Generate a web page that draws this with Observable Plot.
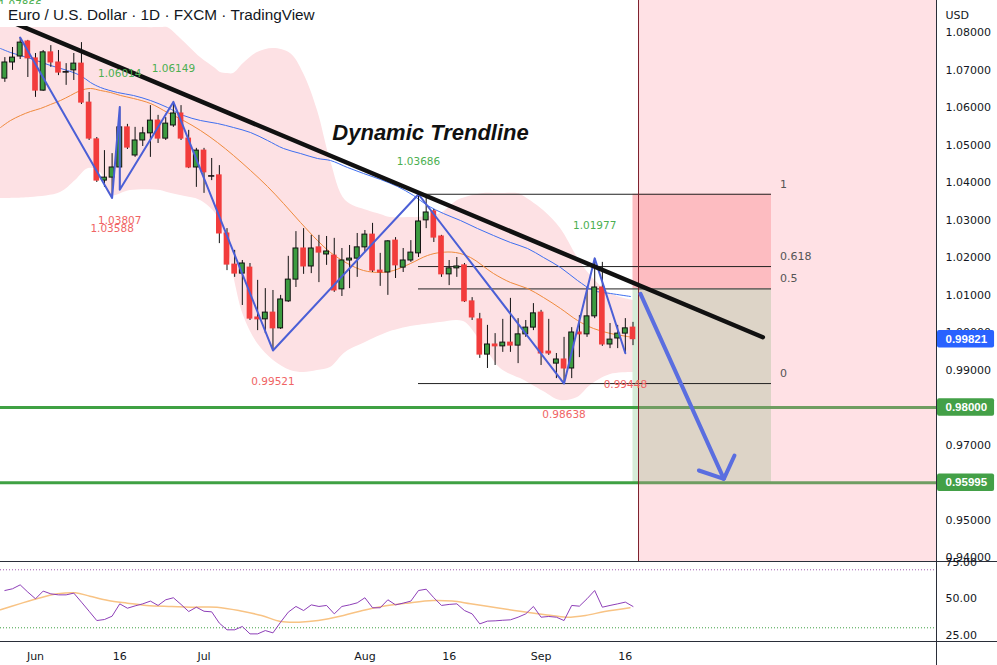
<!DOCTYPE html>
<html><head><meta charset="utf-8">
<script src="https://cdn.jsdelivr.net/npm/d3@7"></script>
<script src="https://cdn.jsdelivr.net/npm/@observablehq/plot@0.6"></script>
<style>
html,body{margin:0;padding:0;background:#fff;}
#wrap{position:relative;width:997px;height:665px;overflow:hidden;}
#main,#rsi{position:absolute;left:0;}
#main{top:0;}
#rsi{top:561px;}
#title{position:absolute;left:0;top:4px;height:22px;padding:0 6px 0 8px;background:#fff;font-family:"Liberation Sans",sans-serif;font-size:15.3px;line-height:21px;color:#131722;white-space:nowrap;}
svg{overflow:visible;}
</style></head><body>
<div id="wrap"><div id="main"></div><div id="rsi"></div><div id="title">Euro / U.S. Dollar · 1D · FXCM · TradingView</div></div>
<script>
// ---------- DATA ----------
const barIdx = d3.range(-4, 79); // trading-day index, 0 = 1 Jun 2022
const open = [1.0677,1.0720,1.0736,1.0776,1.0731,1.0645,1.0747,1.0720,1.0696,1.0699,
 1.0717,1.0613,1.0515,1.0405,1.0413,1.0440,1.0547,1.0472,1.0512,1.0531,
 1.0565,1.0517,1.0552,1.0584,1.0517,1.0440,1.0485,1.0419,1.0419,1.0264,
 1.0181,1.0157,1.0173,1.0040,1.0035,1.0053,1.0011,1.0083,1.0141,1.0224,
 1.0176,1.0227,1.0208,1.0205,1.0115,1.0192,1.0197,1.0227,1.0261,1.0165,
 1.0160,1.0245,1.0173,1.0192,1.0211,1.0299,1.0323,1.0256,1.0155,1.0171,
 1.0179,1.0083,1.0035,0.9941,0.9968,0.9963,0.9973,0.9965,0.9995,1.0013,
 1.0053,0.9949,0.9917,0.9928,0.9904,1.0000,0.9995,1.0043,1.0120,0.9968,
 0.9984,0.9997,1.0013];
const high = [1.0733,1.0760,1.07866,1.0779,1.0744,1.0752,1.0765,1.0752,1.0717,1.0744,
 1.0773,1.0640,1.0520,1.0485,1.0477,1.06014,1.0555,1.0547,1.0547,1.0605,
 1.0579,1.0573,1.06149,1.0605,1.0539,1.0491,1.0491,1.0464,1.0445,1.0277,
 1.0219,1.0192,1.0184,1.0139,1.0117,1.0112,1.0099,1.0203,1.0269,1.0277,
 1.0259,1.0259,1.0256,1.0251,1.0224,1.0232,1.0264,1.0272,1.0291,1.0211,
 1.0245,1.0253,1.0224,1.0245,1.03686,1.0360,1.0328,1.0259,1.0192,1.0200,
 1.0184,1.0093,1.0051,1.0019,0.9997,1.0035,1.0091,1.0037,1.0032,1.0077,
 1.0059,1.0035,0.9944,0.9987,1.0013,1.0045,1.0120,1.01977,1.0187,1.0024,
 1.0019,1.0037,1.0027];
const low = [1.0667,1.0699,1.0728,1.0680,1.0627,1.0643,1.0707,1.0685,1.0659,1.0672,
 1.0608,1.0512,1.0400,1.0387,1.03588,1.03807,1.0488,1.0467,1.0496,1.0467,
 1.0504,1.0512,1.0547,1.0512,1.0437,1.0387,1.0371,1.0405,1.0237,1.0165,
 1.0147,1.0072,1.0032,1.0005,0.9997,0.99521,1.0008,1.0080,1.0120,1.0155,
 1.0157,1.0133,1.0179,1.0107,1.0096,1.0117,1.0147,1.0213,1.0160,1.0123,
 1.0099,1.0144,1.0160,1.0187,1.0200,1.0277,1.0240,1.0147,1.0125,1.0147,
 1.0080,1.0032,0.9931,0.9904,0.9912,0.9947,0.9947,0.9917,0.9987,1.0005,
 0.9912,0.9939,0.9877,0.98638,0.9877,0.9933,0.9987,1.0037,0.9963,0.9957,
 0.9957,0.99448,0.9965];
const close = [1.0720,1.0733,1.0773,1.0731,1.0645,1.0747,1.0720,1.0693,1.0694,1.0717,
 1.0613,1.0517,1.0405,1.0413,1.0440,1.0547,1.0493,1.0512,1.0531,1.0565,
 1.0517,1.0557,1.0584,1.0517,1.0440,1.0485,1.0427,1.0416,1.0264,1.0181,
 1.0157,1.0184,1.0037,1.0035,1.0053,1.0011,1.0088,1.0141,1.0224,1.0176,
 1.0224,1.0213,1.0216,1.0112,1.0192,1.0197,1.0227,1.0261,1.0165,1.0160,
 1.0243,1.0179,1.0192,1.0213,1.0296,1.0320,1.0253,1.0155,1.0171,1.0176,
 1.0083,1.0040,0.9941,0.9968,0.9963,0.9973,0.9965,0.9995,1.0013,1.0051,
 0.9944,0.9944,0.9928,0.9904,1.0000,0.9995,1.0043,1.0120,0.9968,0.9981,
 0.9997,1.0011,0.99821];

// moving averages (at their bends)
const maBlueIdx = [-4.57,-3.26,-1.96,-0.26,1.96,4.18,5.87,7.18,8.49,10.70,12.79,15.01,17.23,19.32,21.54,23.76,25.85,28.07,30.29,32.38,34.60,36.81,38.51,40.73,42.82,45.04,47.26,49.35,51.17,53.26,55.48,57.70,59.79,62.01,64.23,66.32,68.54,70.76,72.85,75.07,77.68];
const maBlue = [1.07573,1.07466,1.07386,1.07280,1.07120,1.06986,1.06853,1.06666,1.06533,1.06400,1.06320,1.06186,1.06000,1.05786,1.05653,1.05573,1.05466,1.05333,1.05120,1.04906,1.04773,1.04640,1.04586,1.04400,1.04240,1.04080,1.03893,1.03653,1.03386,1.03173,1.02986,1.02773,1.02586,1.02400,1.02240,1.02000,1.01733,1.01386,1.01120,1.01040,1.00960];
const maOrangeIdx = [-4.57,-3.26,-1.96,-0.65,0.65,1.96,3.26,4.57,5.87,7.18,8.49,9.79,11.10,12.79,15.01,17.23,19.32,21.54,23.76,25.85,28.07,30.29,32.38,34.60,36.81,38.51,40.73,42.82,45.04,46.74,48.96,51.17,52.87,54.83,56.79,59.79,62.01,64.23,66.32,68.54,70.76,72.85,75.07,77.28,78.07];
const maOrange = [1.05466,1.05653,1.05786,1.05893,1.05973,1.06080,1.06186,1.06320,1.06453,1.06506,1.06453,1.06400,1.06320,1.06240,1.06106,1.05866,1.05653,1.05386,1.05066,1.04720,1.04320,1.03893,1.03440,1.02933,1.02453,1.02133,1.01840,1.01653,1.01600,1.01653,1.01840,1.02053,1.02133,1.02133,1.02000,1.01573,1.01333,1.01173,1.00933,1.00640,1.00320,1.00106,0.99973,0.99893,0.99866];

// shaded envelope: upper and lower edge at the same bar positions
const bandIdx = [-4.57,-0.65,3.26,5.22,6.92,8.49,9.79,12.40,16.32,17.23,18.93,21.54,23.50,24.15,25.07,25.85,27.15,28.98,31.07,33.29,34.99,36.81,38.51,40.47,43.34,45.04,46.34,48.96,49.87,52.87,55.09,56.14,58.49,60.70,62.92,63.32,66.32,68.54,70.76,72.45,75.07,78.07];
const bandUpper = [1.0813,1.0813,1.0813,1.0813,1.0813,1.0813,1.0813,1.0813,1.0813,1.08133,1.07840,1.07333,1.07040,1.06933,1.06906,1.06906,1.07173,1.07466,1.07573,1.07440,1.06906,1.05920,1.04586,1.03520,1.03253,1.03146,1.03066,1.03066,1.03066,1.03173,1.03520,1.03600,1.03706,1.03706,1.03706,1.03680,1.03253,1.02773,1.02000,1.01520,1.01040,1.00853];
const bandLower = [1.03573,1.03600,1.03733,1.04053,1.04373,1.04266,1.03653,1.03786,1.03786,1.03733,1.03653,1.03520,1.03173,1.02853,1.02266,1.01520,1.00453,0.99706,0.99253,0.98986,0.98933,0.98986,0.99066,0.99466,0.99760,0.99920,1.00026,1.00160,1.00186,1.00266,1.00320,1.00266,0.99653,0.99040,0.98800,0.98773,0.98426,0.98186,0.98266,0.98586,0.98880,0.98933];

// zig-zag pivots
const pivotIdx = [-2,10,11,11,18,31,50,69,73,77];
const pivotPrice = [1.07866,1.03588,1.06014,1.03807,1.06149,0.99521,1.03686,0.98638,1.01977,0.99448];
const pivotKind = ["H","L","H","L","H","L","H","L","H","L"];

// drawings
const trendIdx = [-4.57, 94.95];
const trendPrice = [1.08405, 0.99874];
const fibRatios = [1, 0.618, 0.5, 0];
const fibLow = 0.98638, fibHigh = 1.03686;
const fibStartIdx = 50, fibEndIdx = 96.08;
const levelPrices = [0.98000, 0.95995];
const posStartIdx = 78, nowIdx = 78.72;
const posStop = 1.03686, posEntry = 1.01162, posTarget = 0.95995;
const arrowShaftIdx = [78.98, 89.86];
const arrowShaftPrice = [1.01031, 0.96098];
const arrowHeadIdx = [86.6, 89.86, 91.25];
const arrowHeadPrice = [0.96320, 0.96098, 0.96720];
const lastPrice = 0.99821;

// axes
const yTicks = [1.08,1.07,1.06,1.05,1.04,1.03,1.02,1.01,1.00,0.99,0.98,0.97,0.96,0.95,0.94];
const xTickIdx = [0,11,22,43,54,66,77];
const xTickLabel = ["Jun","16","Jul","Aug","16","Sep","16"];
const rsiTicks = [75,50,25];

// RSI (one value per bar) and its moving average
const rsi = [55.7,56.9,59.6,54.6,50.0,55.3,53.4,52.7,52.7,53.9,
 47.7,41.4,35.0,35.7,38.0,46.5,43.5,45.1,46.5,48.4,
 45.4,49.3,50.7,46.1,41.2,44.2,41.4,41.0,33.2,28.6,
 28.6,30.9,25.8,25.8,28.1,26.5,33.9,40.8,44.7,41.9,
 45.8,44.7,45.4,39.6,44.7,45.8,47.2,50.7,43.8,43.8,
 49.3,45.8,47.0,48.4,55.7,56.6,50.7,45.4,46.1,46.5,
 41.9,39.6,32.7,34.6,34.8,35.2,35.5,37.3,39.6,44.7,
 37.3,37.8,37.3,35.0,45.4,44.9,50.0,55.7,44.2,45.4,
 46.5,47.7,44.7];
const rsiMaIdx = [-4.57,-2.1,0.4,2.9,5.2,7.1,9.5,12,14.5,17.8,20.3,23.7,27,29.5,32,34.4,36.9,40.2,42.7,45.2,48.5,51.9,54.4,56.8,60.2,63.5,66.8,69.3,71.8,74.3,77.6];
const rsiMa = [42.4,46.5,50.4,53.4,54.1,51.8,48.8,47.0,45.4,44.7,44.2,44.2,41.4,38.5,34.4,33.9,35.0,38.5,41.9,44.7,47.0,48.8,48.4,46.5,43.8,41.2,38.9,37.3,38.5,41.2,43.8];

// ---------- BUILD ----------
const XD = [-4.569, 117.62];      // visible bar range
const YD = [0.93893, 1.08853];    // visible price range
const RD = [20.55, 75.7];         // visible RSI range
const XR = 125.6;                 // right edge of the price-scale strip

const bars = barIdx.map((i,k)=>({i,o:open[k],h:high[k],l:low[k],c:close[k]}));
const doji = bars.filter(d=>Math.abs(d.c-d.o)<0.0004);
const ups = bars.filter(d=>d.c>d.o && Math.abs(d.c-d.o)>=0.0004);
const downs = bars.filter(d=>d.c<d.o && Math.abs(d.c-d.o)>=0.0004);
const pts = (xs,ys)=>xs.map((x,k)=>({x,y:ys[k]}));
const band = bandIdx.map((x,k)=>({x,lo:bandLower[k],hi:bandUpper[k]}));
const pivots = pivotIdx.map((x,k)=>({x,y:pivotPrice[k],kind:pivotKind[k]}));
const fib = fibRatios.map(r=>({r,y:fibLow+r*(fibHigh-fibLow)}));
const tags = [{v:lastPrice,c:"#2962ff"},{v:levelPrices[0],c:"#43a047"},{v:levelPrices[1],c:"#43a047"}];
const shownTicks = yTicks.filter(t=>!tags.slice(1).some(g=>Math.abs(g.v-t)<0.002));

const main = Plot.plot({
  width:997, height:561, marginLeft:0, marginRight:61, marginTop:0, marginBottom:0,
  style:{background:"transparent", overflow:"visible", fontFamily:"DejaVu Sans"},
  x:{domain:XD, axis:null},
  y:{domain:YD, axis:null},
  marks:[
    Plot.areaY(band,{x:"x",y1:"lo",y2:"hi",fill:"#fde1e4",curve:"catmull-rom",clip:true}),
    Plot.rect([0],{x1:nowIdx,x2:XD[1],y1:YD[0],y2:YD[1],fill:"#ffe1e5"}),
    Plot.rect([0],{x1:posStartIdx,x2:fibEndIdx,y1:posEntry,y2:posStop,fill:"#fdbcc1"}),
    Plot.rect([0],{x1:posStartIdx,x2:nowIdx,y1:posTarget,y2:posEntry,fill:"#d6ecd8"}),
    Plot.rect([0],{x1:nowIdx,x2:fibEndIdx,y1:posTarget,y2:posEntry,fill:"#ddd4c7"}),
    Plot.ruleY(levelPrices,{x1:XD[0],x2:nowIdx,stroke:"#3fa143",strokeWidth:3}),
    Plot.ruleY(levelPrices,{x1:nowIdx,x2:XD[1],stroke:"#6f9d61",strokeWidth:3}),
    Plot.ruleY(fib,{y:"y",x1:fibStartIdx,x2:fibEndIdx,stroke:"#222",strokeWidth:1}),
    Plot.text(fib,{x:97.2,y:"y",text:d=>String(d.r),textAnchor:"start",dy:-10,fill:"#555",fontSize:11}),
    Plot.ruleX([nowIdx],{y1:YD[0],y2:YD[1],stroke:"#7d1f2b",strokeWidth:1}),
    Plot.line(pts(maOrangeIdx,maOrange),{x:"x",y:"y",stroke:"#f08a3c",strokeWidth:1,curve:"catmull-rom"}),
    Plot.line(pts(maBlueIdx,maBlue),{x:"x",y:"y",stroke:"#3f6ff0",strokeWidth:1,curve:"catmull-rom"}),
    Plot.ruleX(bars,{x:"i",y1:"l",y2:"h",stroke:"#111",strokeWidth:1}),
    Plot.rect(ups,{x1:d=>d.i-0.32,x2:d=>d.i+0.32,y1:"o",y2:"c",fill:"#3c9b40",stroke:"#111",strokeWidth:1}),
    Plot.rect(downs,{x1:d=>d.i-0.37,x2:d=>d.i+0.37,y1:"o",y2:"c",fill:"#f23c3c",insetTop:-0.5,insetBottom:-0.5}),
    Plot.ruleY(doji,{x1:d=>d.i-0.4,x2:d=>d.i+0.4,y:d=>(d.o+d.c)/2,stroke:"#111",strokeWidth:1.6}),
    Plot.line(pivots,{x:"x",y:"y",stroke:"#4b5fd6",strokeWidth:2}),
    Plot.line(pts(trendIdx,trendPrice),{x:"x",y:"y",stroke:"#111",strokeWidth:4.5,strokeLinecap:"round"}),
    Plot.line(pts(arrowShaftIdx,arrowShaftPrice),{x:"x",y:"y",stroke:"#5a6ee0",strokeWidth:4}),
    Plot.line(pts(arrowHeadIdx,arrowHeadPrice),{x:"x",y:"y",stroke:"#5a6ee0",strokeWidth:4,strokeLinejoin:"miter"}),
    Plot.text(pivots.filter(d=>d.kind==="H"),{x:"x",y:"y",text:d=>d.y.toFixed(5),dy:-33,fill:"#4caf50",fontSize:10.5}),
    Plot.text(pivots.filter(d=>d.kind==="L"),{x:"x",y:"y",text:d=>d.y.toFixed(5),dy:31,fill:"#f06464",fontSize:10.5}),
    Plot.text(["Dynamic Trendline"],{x:51.57,y:1.05333,text:d=>d,fontFamily:"Liberation Sans",fontWeight:"bold",fontStyle:"italic",fontSize:22,fill:"#111"}),
    Plot.ruleX([XD[1]],{y1:YD[0],y2:YD[1],stroke:"#2a2e39",strokeWidth:1}),
    Plot.text(shownTicks,{x:XD[1],y:d=>d,text:d=>d.toFixed(5),dx:9,textAnchor:"start",fill:"#131722",fontSize:11}),
    Plot.text(["USD"],{frameAnchor:"top-right",dx:9,dy:11,textAnchor:"start",fill:"#131722",fontSize:11}),
    Plot.rect(tags,{x1:117.75,x2:125.2,y1:d=>d.v-0.00233,y2:d=>d.v+0.00233,fill:"c",rx:2}),
    Plot.text(tags,{x:XD[1],y:"v",text:d=>d.v.toFixed(5),dx:9,textAnchor:"start",fill:"#fff",fontWeight:"bold",fontFamily:"Liberation Sans",fontSize:11.5})
  ]
});
document.getElementById("main").appendChild(main);

const rsiPlot = Plot.plot({
  width:997, height:104, marginLeft:0, marginRight:61, marginTop:0, marginBottom:24,
  style:{background:"transparent", overflow:"visible", fontFamily:"DejaVu Sans"},
  x:{domain:XD, axis:null},
  y:{domain:RD, axis:null},
  marks:[
    Plot.ruleY([70],{x1:XD[0],x2:XD[1],stroke:"#a05ab0",strokeDasharray:"1,2"}),
    Plot.ruleY([30],{x1:XD[0],x2:XD[1],stroke:"#3fa143",strokeDasharray:"1,2"}),
    Plot.line(pts(rsiMaIdx,rsiMa),{x:"x",y:"y",stroke:"#f8c384",strokeWidth:1.5,curve:"catmull-rom"}),
    Plot.line(barIdx.map((x,k)=>({x,y:rsi[k]})),{x:"x",y:"y",stroke:"#8e3fb8",strokeWidth:1}),
    Plot.ruleY([RD[1],RD[0]],{x1:XD[0],x2:XR,stroke:"#2a2e39",strokeWidth:1}),
    Plot.ruleX([XD[1]],{y1:RD[1],y2:4,stroke:"#2a2e39",strokeWidth:1}),
    Plot.text(rsiTicks,{x:XD[1],y:d=>d,text:d=>d.toFixed(2),dx:9,textAnchor:"start",fill:"#131722",fontSize:11}),
    Plot.text(xTickIdx,{x:d=>d,y:RD[0],text:(d,k)=>xTickLabel[k],dy:15,fill:"#131722",fontSize:11})
  ]
});
document.getElementById("rsi").appendChild(rsiPlot);
</script>
</body></html>
